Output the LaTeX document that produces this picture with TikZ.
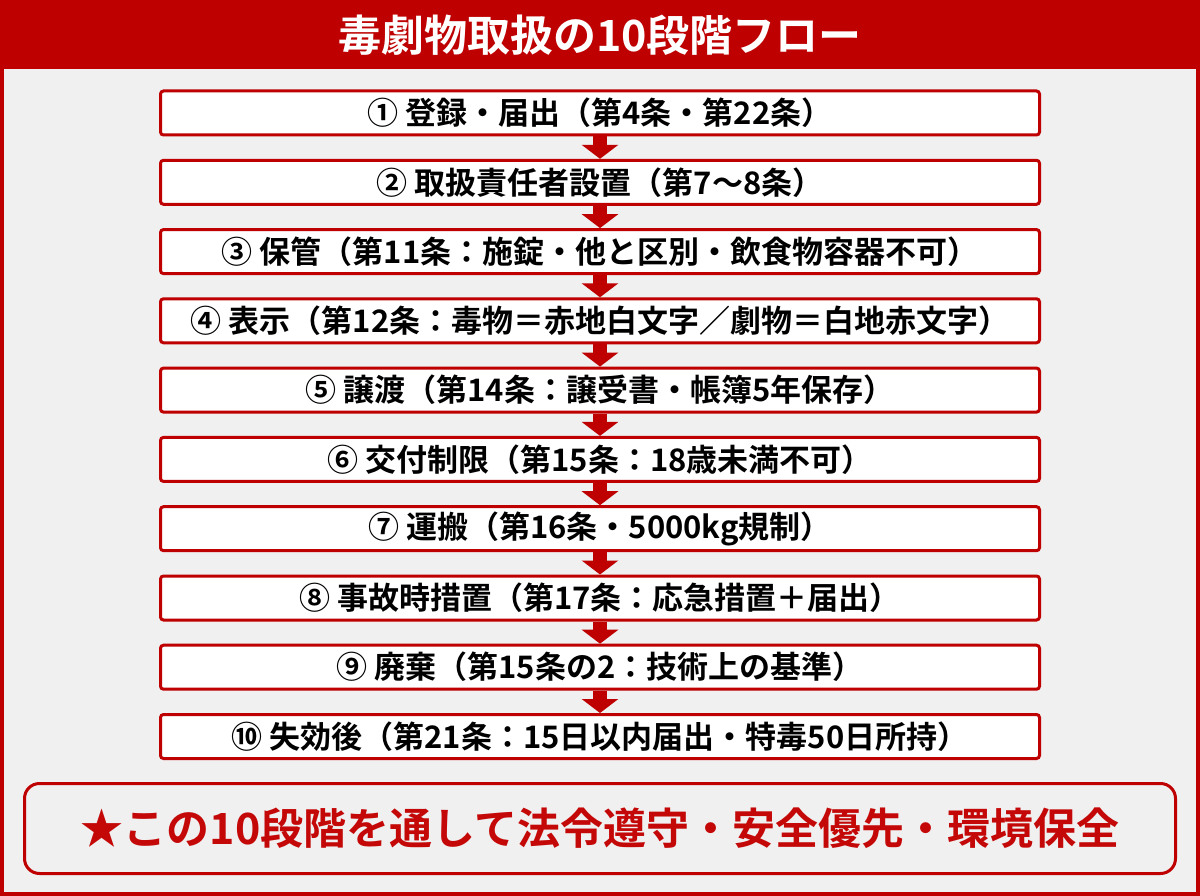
\documentclass[tikz,border=0pt]{standalone}
\usepackage{fontspec}
\setmainfont{Noto Sans CJK JP}[BoldFont={Noto Sans CJK JP Bold}]
\usetikzlibrary{arrows.meta}

\definecolor{flowred}{RGB}{190,0,0}
\definecolor{textred}{RGB}{196,8,8}
\definecolor{paper}{RGB}{240,240,240}

\begin{document}
\begin{tikzpicture}[x=1pt,y=-1pt,
    flowarrow/.style={draw=flowred,line width=14pt,
        -{Triangle[width=36pt,length=14pt]}}]
\useasboundingbox (0,0) rectangle (1200,896);
\fill[flowred] (0,0) rectangle (1200,896);
\fill[paper] (4,69) rectangle (1196,892);
\node[text=white,font=\fontsize{43}{48}\selectfont\bfseries] (title) at (600,35) {毒劇物取扱の10段階フロー};
\begin{scope}[every node/.style={draw=flowred,line width=3pt,fill=white,rounded corners=3pt,
              minimum width=879pt,minimum height=44pt,inner sep=0pt,
              font=\fontsize{31}{34}\selectfont\bfseries}]
    \node (s1) at (600,113) {① 登録・届出（第4条・第22条）};
    \node (s2) at (600,182.3) {② 取扱責任者設置（第7〜8条）};
    \node (s3) at (600,251.6) {③ 保管（第11条：施錠・他と区別・飲食物容器不可）};
    \node (s4) at (600,320.8) {④ 表示（第12条：毒物＝赤地白文字／劇物＝白地赤文字）};
    \node (s5) at (600,390.1) {⑤ 譲渡（第14条：譲受書・帳簿5年保存）};
    \node (s6) at (600,459.4) {⑥ 交付制限（第15条：18歳未満不可）};
    \node (s7) at (600,528.7) {⑦ 運搬（第16条・5000kg規制）};
    \node (s8) at (600,598) {⑧ 事故時措置（第17条：応急措置＋届出）};
    \node (s9) at (600,667.2) {⑨ 廃棄（第15条の2：技術上の基準）};
    \node (s10) at (600,736.5) {⑩ 失効後（第21条：15日以内届出・特毒50日所持）};
\end{scope}
\path[flowarrow] (s1) -- (s2);
\path[flowarrow] (s2) -- (s3);
\path[flowarrow] (s3) -- (s4);
\path[flowarrow] (s4) -- (s5);
\path[flowarrow] (s5) -- (s6);
\path[flowarrow] (s6) -- (s7);
\path[flowarrow] (s7) -- (s8);
\path[flowarrow] (s8) -- (s9);
\path[flowarrow] (s9) -- (s10);
\node[draw=flowred,line width=3pt,rounded corners=15pt,minimum width=1151pt,minimum height=90pt,
      text=textred,font=\fontsize{43}{50}\selectfont\bfseries] (goal) at (600,828.5)
      {★この10段階を通して法令遵守・安全優先・環境保全};
\end{tikzpicture}
\end{document}
